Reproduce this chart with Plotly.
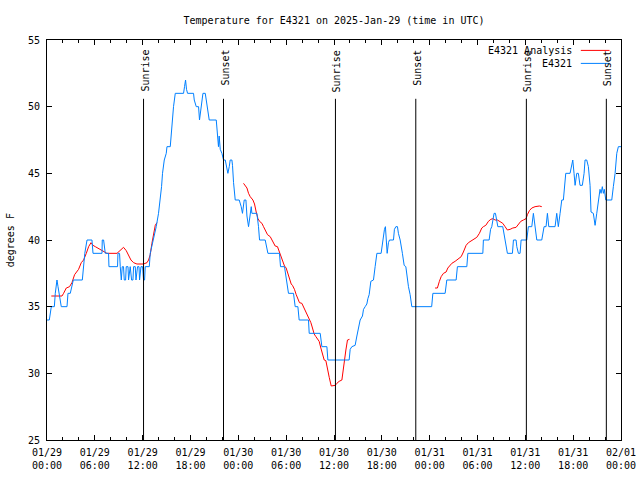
import pandas as pd
import plotly.graph_objects as go

BASE = pd.Timestamp("2025-01-29 00:00")
FONT = "DejaVu Sans Mono"

# ---- observed station data (hours since 01/29 00:00 UTC, deg F) ----
obs_hours = [
    0.00, 0.29, 0.54, 0.92, 1.04, 1.25, 1.38, 1.54, 1.79, 2.51,
    2.63, 2.92, 3.30, 4.43, 4.59, 4.74, 5.02, 5.64, 5.77, 6.90,
    6.93, 7.10, 7.31, 7.72, 7.77, 8.85, 8.90, 9.10, 9.19, 9.32,
    9.44, 9.60, 9.69, 9.86, 9.94, 10.16, 10.23, 10.44, 10.61, 10.78,
    10.86, 11.07, 11.16, 11.36, 11.54, 11.61, 11.79, 11.99, 12.11, 12.24,
    12.32, 12.83, 12.95, 13.16, 13.37, 13.70, 13.99, 14.21, 14.37, 14.49,
    14.71, 14.96, 15.05, 15.46, 15.59, 15.75, 15.87, 16.09, 17.13, 17.25,
    17.38, 17.50, 17.63, 18.38, 18.47, 18.72, 19.01, 19.13, 19.31, 19.56,
    19.85, 20.06, 20.35, 21.23, 21.39, 21.51, 21.60, 21.73, 21.94, 22.14,
    22.36, 22.61, 22.69, 22.86, 22.98, 23.19, 23.27, 23.40, 23.52, 23.61,
    24.11, 24.24, 24.36, 24.52, 24.74, 24.95, 25.08, 25.28, 25.49, 25.62,
    25.70, 26.33, 26.53, 26.66, 27.37, 27.58, 27.71, 29.16, 29.29, 29.79,
    30.00, 30.29, 30.92, 31.13, 31.47, 31.63, 32.80, 32.89, 34.27, 34.48,
    35.11, 35.23, 37.90, 38.03, 38.24, 38.65, 38.87, 39.07, 39.28, 39.57,
    39.70, 39.91, 40.12, 40.25, 40.41, 40.62, 40.95, 41.16, 41.38, 41.91,
    42.08, 42.20, 42.33, 42.45, 42.54, 42.67, 42.83, 42.96, 43.46, 43.58,
    43.76, 43.96, 44.08, 44.30, 44.58, 44.80, 45.01, 45.14, 45.34, 45.55,
    45.76, 48.25, 48.40, 49.94, 50.15, 51.32, 51.48, 52.66, 52.79, 54.67,
    54.74, 55.46, 55.64, 55.79, 55.92, 56.08, 56.25, 56.43, 56.55, 57.17,
    57.34, 57.59, 57.75, 58.38, 58.51, 58.84, 58.93, 59.13, 59.34, 59.47,
    59.97, 60.18, 60.38, 60.81, 61.01, 61.22, 61.44, 62.06, 62.35, 62.60,
    62.77, 62.94, 63.73, 63.94, 64.14, 64.36, 64.57, 64.77, 64.90, 65.07,
    65.61, 65.82, 65.95, 66.11, 66.24, 66.45, 66.65, 66.86, 67.15, 67.37,
    67.49, 67.70, 67.91, 68.12, 68.24, 68.53, 68.75, 68.96, 69.16, 69.37,
    69.50, 69.66, 69.79, 69.91, 70.09, 70.84, 71.04, 71.26, 71.47, 71.67,
    72.00,
]
obs_temps = [
    34, 34, 35, 35, 36, 37, 36.5, 36, 35, 35,
    36, 36, 37, 37, 38, 39, 40, 40, 39, 39,
    40, 40, 39, 39, 38, 38, 39, 39, 38, 37,
    38, 38, 37, 37, 38, 38, 37, 38, 37, 37,
    38, 38, 37, 38, 38, 37, 38, 38, 37, 37,
    38, 38, 39, 39.5, 40, 41, 42, 43, 44, 45,
    46, 46.5, 47, 47, 48, 49, 50, 51, 51, 51.5,
    52, 51.3, 51, 51, 50.5, 50, 50, 49, 49.8, 51,
    51, 50, 49, 49, 48, 47, 47.8, 46.8, 46.5, 46,
    46, 45.3, 45, 45.5, 46, 46, 45.6, 44.3, 43.3, 43,
    43, 42.8, 42.5, 42, 43, 43, 41.8, 41, 41.8, 42.5,
    42, 42, 41, 40, 40, 39.3, 39, 39, 38, 38,
    37, 36, 36, 35, 35, 34, 34, 33, 33, 32,
    32, 31, 31, 31.8, 32, 32.1, 32.8, 33.5, 34, 34.3,
    34.8, 35, 35.2, 35.6, 35.9, 36.9, 37, 38, 39, 39,
    39.8, 40.3, 40.8, 41, 40.3, 39, 39.8, 40, 40, 40.8,
    41, 41, 40.5, 40, 39, 38.1, 38, 37.3, 36.5, 35.9,
    35, 35, 36, 36, 37, 37, 38, 38, 39, 39,
    40, 40, 40.8, 41, 41.6, 42, 42, 41.5, 41, 41,
    40.3, 39.4, 39, 39, 40, 40, 39.5, 39, 39, 40,
    40, 40, 41, 41, 42, 41, 40, 40, 41, 41,
    42, 41, 41, 42, 41, 42, 43, 43, 44, 45,
    45, 45.5, 46, 45, 44.1, 45, 45, 44.1, 44.1, 45,
    46, 46, 45.5, 44.1, 42.1, 42, 41.1, 42, 43, 43.8,
    43.5, 44, 43.5, 43.8, 43, 43, 44, 45, 46.5, 47,
    47,
]

# ---- analysis series, three runs (hours, deg F) ----
ana1_hours = [0.54, 1.88, 2.08, 2.42, 2.83, 3.13, 3.46, 3.67, 3.96, 4.30,
              4.59, 4.93, 5.22, 5.52, 5.77, 6.06, 6.68, 7.02, 7.31, 7.52,
              8.78, 9.19, 9.60, 9.94, 10.23, 10.53, 10.86, 11.28, 12.11, 12.54,
              12.74, 12.95, 13.16, 13.37, 13.58, 13.79]
ana1_temps = [35.8, 35.8, 36, 36.4, 36.5, 36.8, 37.4, 37.6, 37.8, 38.3,
              38.5, 39, 39.5, 39.8, 39.6, 39.5, 39.3, 39.2, 39.1, 39,
              39, 39.2, 39.45, 39.2, 38.8, 38.5, 38.3, 38.2, 38.2, 38.3,
              38.5, 38.9, 39.75, 40.5, 41.1, 41.3]
ana2_hours = [24.65, 24.86, 25.08, 25.28, 25.49, 25.83, 26.03, 26.24, 26.46, 26.66,
              26.96, 27.16, 27.37, 27.66, 28.00, 28.21, 28.41, 28.62, 28.91, 29.13,
              29.34, 29.54, 29.79, 30.00, 30.22, 30.42, 30.63, 30.79, 31.04, 31.26,
              31.47, 31.67, 31.97, 32.17, 32.39, 32.67, 32.89, 33.10, 33.30, 33.51,
              33.73, 33.93, 34.14, 34.35, 34.55, 34.77, 34.98, 35.18, 35.40, 35.65,
              35.93, 36.15, 36.36, 36.65, 36.99, 37.11, 37.28, 37.49, 37.69, 37.94]
ana2_temps = [44.25, 44.1, 43.9, 43.5, 43.25, 43, 42.7, 42.1, 41.6, 41.4,
              41.25, 41, 40.7, 40.4, 40.25, 40, 39.75, 39.55, 39.5, 39.1,
              38.75, 38.4, 38.05, 37.9, 37.5, 37.1, 36.7, 36.6, 36.3, 35.9,
              35.6, 35.3, 35.25, 35, 34.7, 34.25, 34.1, 33.8, 33.4, 32.95,
              32.75, 32.6, 32.4, 31.9, 31.4, 31, 30.95, 30.25, 29.7, 29.05,
              29.05, 29.1, 29.25, 29.4, 29.5, 30.1, 31, 31.75, 32.5, 32.55]
ana3_hours = [48.68, 48.97, 49.22, 49.44, 49.73, 50.06, 50.28, 50.56, 50.78, 51.19,
              51.53, 51.95, 52.23, 52.57, 52.86, 53.16, 53.49, 53.70, 53.91, 54.24,
              54.54, 54.74, 55.04, 55.37, 55.67, 55.92, 56.21, 56.50, 56.84, 57.17,
              57.46, 57.75, 58.09, 58.43, 58.84, 59.13, 59.43, 59.76, 60.09, 60.26,
              60.51, 60.81, 61.22, 61.76, 62.06]
ana3_temps = [36.4, 36.4, 36.9, 37.25, 37.5, 37.6, 37.9, 38.1, 38.25, 38.4,
              38.55, 38.75, 39.1, 39.6, 39.8, 39.9, 40.05, 40.1, 40.2, 40.5,
              40.9, 41, 41.1, 41.4, 41.55, 41.6, 41.5, 41.5, 41.4, 41.25,
              41, 40.75, 40.8, 40.9, 40.95, 41.2, 41.4, 41.5, 41.6, 41.9,
              42.2, 42.4, 42.5, 42.55, 42.5]

# ---- sun events (hours since 01/29 00:00 UTC) ----
event_hours = [12.11, 22.14, 36.18, 46.26, 60.13, 70.16]
event_labels = ["Sunrise", "Sunset", "Sunrise", "Sunset", "Sunrise", "Sunset"]

title_text = "Temperature for E4321 on 2025-Jan-29 (time in UTC)"
ytitle_text = "degrees F"
obs_name = "E4321"
ana_name = "E4321 Analysis"

RED = "#ff0000"
BLUE = "#0080ff"

FIG_W, FIG_H = 640, 480


def to_time(hours):
    return [BASE + pd.Timedelta(hours=h) for h in hours]


ana_x, ana_y = [], []
for hs, ts in [(ana1_hours, ana1_temps), (ana2_hours, ana2_temps), (ana3_hours, ana3_temps)]:
    ana_x += to_time(hs) + [None]
    ana_y += list(ts) + [None]

fig = go.Figure()
fig.add_trace(go.Scatter(x=ana_x, y=ana_y, mode="lines", name=ana_name,
                         line=dict(color=RED, width=1), connectgaps=False))
fig.add_trace(go.Scatter(x=to_time(obs_hours), y=obs_temps, mode="lines", name=obs_name,
                         line=dict(color=BLUE, width=1)))

shapes = []
annotations = []
for t, lab in zip(to_time(event_hours), event_labels):
    shapes.append(dict(type="line", xref="x", yref="paper", x0=t, x1=t, y0=0, y1=0.853,
                       line=dict(color="black", width=1)))
    annotations.append(dict(xref="x", yref="paper", x=t, y=0.98, text=lab, textangle=-90,
                            showarrow=False, xanchor="center", yanchor="top", xshift=1,
                            font=dict(family=FONT, size=10, color="black")))

# gnuplot-style key: text right-aligned, sample line to the right
for name, color, yp in [(ana_name, RED, 0.974), (obs_name, BLUE, 0.9415)]:
    annotations.append(dict(xref="paper", yref="paper", x=0.918, y=yp, text=name,
                            showarrow=False, xanchor="right", yanchor="middle",
                            font=dict(family=FONT, size=10, color="black")))
    shapes.append(dict(type="line", xref="paper", yref="paper", x0=0.930, x1=0.980,
                       y0=yp, y1=yp, line=dict(color=color, width=1)))

annotations.append(dict(xref="paper", yref="paper", x=-0.064, y=0.5, text=ytitle_text,
                        textangle=-90, showarrow=False, xanchor="center", yanchor="middle",
                        font=dict(family=FONT, size=10, color="black")))

axis_common = dict(showline=True, linecolor="black", linewidth=1, mirror="ticks",
                   ticks="inside", tickcolor="black", tickwidth=1, showgrid=False,
                   zeroline=False, automargin=False,
                   tickfont=dict(family=FONT, size=10, color="black"))

fig.update_layout(
    width=FIG_W, height=FIG_H,
    margin=dict(l=47, r=19, t=40, b=40, autoexpand=False),
    paper_bgcolor="white", plot_bgcolor="white",
    showlegend=False,
    title=dict(text=title_text, x=0.5, xref="paper", y=1 - 20 / FIG_H, yref="container",
               yanchor="middle", xanchor="center", automargin=False,
               font=dict(family=FONT, size=10, color="black")),
    xaxis=dict(type="date",
               range=[BASE, BASE + pd.Timedelta(hours=72)],
               tick0=BASE, dtick=6 * 3600 * 1000, tickformat="%m/%d<br>%H:%M",
               ticklen=5, ticklabelstandoff=3,
               minor=dict(dtick=2 * 3600 * 1000, ticks="inside", ticklen=3,
                          tickcolor="black", showgrid=False),
               **axis_common),
    yaxis=dict(range=[25, 55], dtick=5, tick0=25, ticklen=5, ticklabelstandoff=4,
               **axis_common),
    shapes=shapes, annotations=annotations,
)

fig.write_html("out.html",
               config={"displayModeBar": False, "staticPlot": True},
               post_script="document.body.style.margin='0';document.body.style.padding='0';")
